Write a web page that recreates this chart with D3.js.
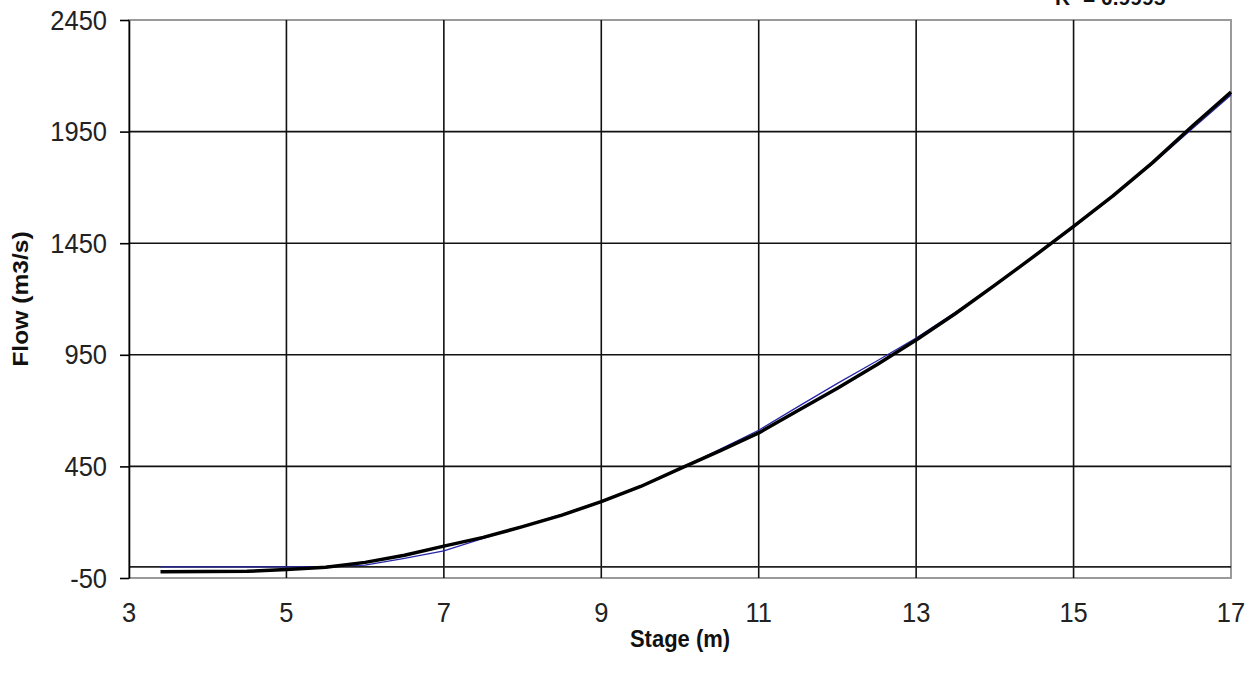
<!DOCTYPE html>
<html>
<head>
<meta charset="utf-8">
<script src="https://d3js.org/d3.v7.min.js"></script>
<style>
    html, body { margin: 0; padding: 0; background: #fff; }
    svg { display: block; font-family: Arial, "Liberation Sans", sans-serif; }
</style>
</head>
<body>
<div id="chart"></div>
<script>
// Stage (m) sample points
const stage = [3.4, 4.0, 4.5, 5.0, 5.5, 6.0, 6.5, 7.0, 7.5, 8.0, 8.5, 9.0, 9.5, 10.0,
               10.5, 11.0, 11.5, 12.0, 12.5, 13.0, 13.5, 14.0, 14.5, 15.0, 15.5, 16.0, 16.5, 17.0];
// observed flow (thin blue line)
const flowObserved = [0, 0, 0, 0, 2, 8, 38, 72, 128, 182, 235, 295, 362, 440,
                      525, 612, 718, 822, 922, 1025, 1140, 1262, 1390, 1520, 1660, 1805, 1960, 2114];
// fitted rating curve (thick black line)
const flowFitted = [-22, -21, -20, -12, -2, 20, 52, 93, 132, 180, 232, 292, 360, 440,
                    518, 600, 700, 800, 905, 1016, 1135, 1262, 1392, 1525, 1662, 1810, 1972, 2127];

const xTicks = [3, 5, 7, 9, 11, 13, 15, 17];
const yTicks = [-50, 450, 950, 1450, 1950, 2450];
const rSquaredLabel = "R² = 0.9995";

const WIDTH = 1258, HEIGHT = 677;
const PLOT = { left: 129, right: 1231, top: 20, bottom: 578 };

const svg = d3.select("#chart")
    .append("svg")
    .attr("width", WIDTH)
    .attr("height", HEIGHT);

const x = d3.scaleLinear().domain([3, 17]).range([PLOT.left, PLOT.right]);
const y = d3.scaleLinear().domain([-50, 2450]).range([PLOT.bottom, PLOT.top]);

// plot frame (grey top/right/bottom)
svg.append("rect")
    .attr("x", PLOT.left)
    .attr("y", PLOT.top)
    .attr("width", PLOT.right - PLOT.left)
    .attr("height", PLOT.bottom - PLOT.top)
    .attr("fill", "none")
    .attr("stroke", "#9a9a9a")
    .attr("stroke-width", 2);

// vertical gridlines
svg.append("g")
    .selectAll("line")
    .data(xTicks.slice(1, -1))
    .join("line")
    .attr("x1", d => x(d)).attr("x2", d => x(d))
    .attr("y1", PLOT.top).attr("y2", PLOT.bottom)
    .attr("stroke", "#111")
    .attr("stroke-width", 1.6);

// horizontal gridlines
svg.append("g")
    .selectAll("line")
    .data(yTicks.slice(1, -1))
    .join("line")
    .attr("x1", PLOT.left).attr("x2", PLOT.right)
    .attr("y1", d => y(d)).attr("y2", d => y(d))
    .attr("stroke", "#111")
    .attr("stroke-width", 1.6);

// horizontal axis line crossing at zero
svg.append("line")
    .attr("x1", PLOT.left).attr("x2", PLOT.right)
    .attr("y1", y(0)).attr("y2", y(0))
    .attr("stroke", "#222")
    .attr("stroke-width", 1.6);

// left axis
const yAxis = svg.append("g")
    .attr("transform", `translate(${PLOT.left},0)`)
    .call(d3.axisLeft(y).tickValues(yTicks).tickFormat(d => String(d))
        .tickSize(9).tickSizeOuter(0).tickPadding(0));
yAxis.select(".domain").attr("stroke", "#000").attr("stroke-width", 1.6);
yAxis.selectAll(".tick line").attr("stroke", "#000").attr("stroke-width", 1.6);
yAxis.selectAll(".tick text")
    .attr("x", null).attr("dy", null)
    .attr("transform", "translate(-22,9) scale(1,1.12)")
    .attr("font-size", 25.5)
    .attr("fill", "#222")
    .attr("font-family", "Arial, 'Liberation Sans', sans-serif");

// bottom tick labels (no tick marks)
svg.append("g")
    .selectAll("text")
    .data(xTicks)
    .join("text")
    .attr("transform", d => `translate(${x(d)},622) scale(1,1.12)`)
    .attr("text-anchor", "middle")
    .attr("font-size", 25.5)
    .attr("fill", "#222")
    .text(d => d);

// series lines
const line = d3.line()
    .x((d, i) => x(stage[i]))
    .y(d => y(d));

svg.append("path")
    .datum(flowObserved)
    .attr("fill", "none")
    .attr("stroke", "#2626a8")
    .attr("stroke-width", 1.3)
    .attr("d", line);

svg.append("path")
    .datum(flowFitted)
    .attr("fill", "none")
    .attr("stroke", "#000")
    .attr("stroke-width", 3.5)
    .attr("stroke-linejoin", "round")
    .attr("d", line);

// axis titles
svg.append("text")
    .attr("transform", `translate(${(PLOT.left + PLOT.right) / 2},647) scale(1,1.12)`)
    .attr("text-anchor", "middle")
    .attr("font-size", 22)
    .attr("font-weight", "bold")
    .attr("fill", "#111")
    .text("Stage (m)");

svg.append("text")
    .attr("transform", `translate(28,${(PLOT.top + PLOT.bottom) / 2}) rotate(-90) scale(1.12,1)`)
    .attr("text-anchor", "middle")
    .attr("font-size", 22)
    .attr("font-weight", "bold")
    .attr("fill", "#111")
    .text("Flow (m3/s)");

// trendline label, cut off at the top edge as in the source image
svg.append("text")
    .attr("x", 1055)
    .attr("y", 5)
    .attr("font-size", 21)
    .attr("font-weight", "bold")
    .attr("fill", "#111")
    .text(rSquaredLabel);
</script>
</body>
</html>
